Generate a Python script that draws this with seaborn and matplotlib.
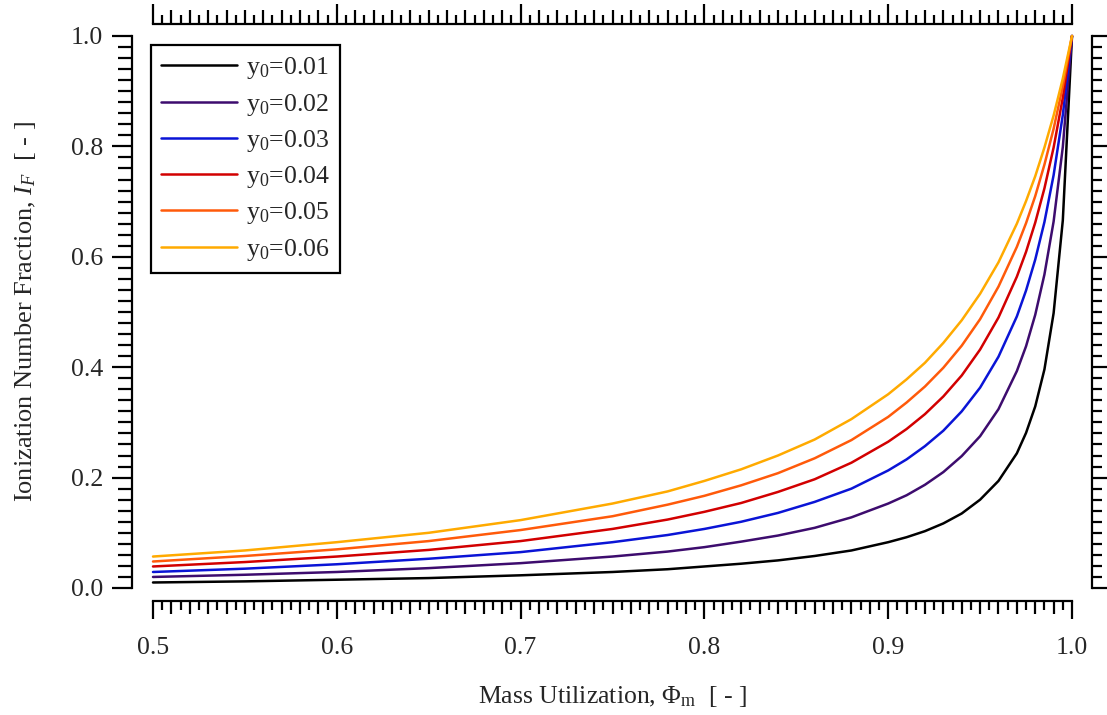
import numpy as np
import pandas as pd
import matplotlib
matplotlib.use("Agg")
import matplotlib.pyplot as plt
import seaborn as sns
from matplotlib.ticker import MultipleLocator, FormatStrFormatter

# ---------------- data ----------------
mass_util = [0.50, 0.55, 0.60, 0.65, 0.70, 0.75, 0.78, 0.80, 0.82, 0.84, 0.86, 0.88,
             0.90, 0.91, 0.92, 0.93, 0.94, 0.95, 0.96, 0.97, 0.975, 0.98, 0.985,
             0.99, 0.995, 1.00]
y0_labels = ["y$_0$=0.01", "y$_0$=0.02", "y$_0$=0.03",
             "y$_0$=0.04", "y$_0$=0.05", "y$_0$=0.06"]
if_y001 = [0.010, 0.012, 0.015, 0.018, 0.023, 0.029, 0.034, 0.039, 0.044, 0.050, 0.058,
           0.068, 0.083, 0.092, 0.103, 0.117, 0.135, 0.160, 0.194, 0.244, 0.281, 0.329,
           0.396, 0.498, 0.666, 1.000]
if_y002 = [0.020, 0.024, 0.029, 0.036, 0.045, 0.057, 0.066, 0.074, 0.084, 0.095, 0.109,
           0.128, 0.153, 0.168, 0.187, 0.210, 0.239, 0.275, 0.324, 0.393, 0.438, 0.495,
           0.568, 0.664, 0.799, 1.000]
if_y003 = [0.029, 0.035, 0.043, 0.053, 0.065, 0.083, 0.096, 0.107, 0.120, 0.136, 0.156,
           0.180, 0.213, 0.233, 0.257, 0.285, 0.320, 0.363, 0.419, 0.492, 0.539, 0.595,
           0.663, 0.748, 0.857, 1.000]
if_y004 = [0.039, 0.047, 0.057, 0.069, 0.085, 0.107, 0.124, 0.138, 0.154, 0.174, 0.197,
           0.227, 0.265, 0.288, 0.315, 0.347, 0.385, 0.432, 0.490, 0.564, 0.609, 0.662,
           0.724, 0.798, 0.888, 1.000]
if_y005 = [0.048, 0.058, 0.070, 0.085, 0.105, 0.130, 0.151, 0.167, 0.186, 0.208, 0.235,
           0.268, 0.310, 0.336, 0.365, 0.399, 0.439, 0.487, 0.546, 0.618, 0.661, 0.710,
           0.767, 0.832, 0.909, 1.000]
if_y006 = [0.057, 0.068, 0.083, 0.100, 0.123, 0.153, 0.175, 0.194, 0.215, 0.240, 0.269,
           0.306, 0.351, 0.378, 0.408, 0.444, 0.485, 0.533, 0.590, 0.660, 0.701, 0.746,
           0.798, 0.856, 0.923, 1.000]
series = [if_y001, if_y002, if_y003, if_y004, if_y005, if_y006]
colors = ["#000000", "#3d0c6e", "#0a14d6", "#d20000", "#ff5a0a", "#ffaa00"]

x_ticks = [0.5, 0.6, 0.7, 0.8, 0.9, 1.0]
y_ticks = [0.0, 0.2, 0.4, 0.6, 0.8, 1.0]

frames = []
for lab, vals in zip(y0_labels, series):
    frames.append(pd.DataFrame({"x": mass_util, "y": vals, "series": lab}))
df = pd.concat(frames, ignore_index=True)

# ---------------- style ----------------
sns.set_theme(style="white")
plt.rcParams["font.family"] = ["Liberation Serif", "DejaVu Serif"]
plt.rcParams["mathtext.fontset"] = "custom"
plt.rcParams["mathtext.rm"] = "Liberation Serif"
plt.rcParams["mathtext.it"] = "Liberation Serif:italic"
plt.rcParams["mathtext.bf"] = "Liberation Serif:bold"
FS = 18.5
LW = 1.6
CLW = 1.8
px = 72.0 / 100.0  # points per pixel

fig = plt.figure(figsize=(11.07, 7.15), dpi=100)
ax = fig.add_axes([153 / 1107, (715 - 588) / 715, 919 / 1107, 552 / 715])

sns.lineplot(data=df, x="x", y="y", hue="series", palette=colors,
             linewidth=CLW, ax=ax, legend=True, sort=False)
for ln in ax.get_lines():
    ln.set_clip_on(False)

ax.set_xlim(0.5, 1.0)
ax.set_ylim(0.0, 1.0)

# spines
for s in ["left", "bottom", "top", "right"]:
    ax.spines[s].set_visible(False)
ax.spines["left"].set_visible(True)
ax.spines["bottom"].set_visible(True)
ax.spines["left"].set_position(("outward", 21 * px))
ax.spines["bottom"].set_position(("outward", 13 * px))
for s in ["left", "bottom"]:
    ax.spines[s].set_linewidth(LW)
    ax.spines[s].set_color("black")

ax.xaxis.set_major_locator(MultipleLocator(0.1))
ax.xaxis.set_minor_locator(MultipleLocator(0.005))
ax.yaxis.set_major_locator(MultipleLocator(0.2))
ax.yaxis.set_minor_locator(MultipleLocator(0.02))
ax.xaxis.set_major_formatter(FormatStrFormatter("%.1f"))
ax.yaxis.set_major_formatter(FormatStrFormatter("%.1f"))
ax.set_xticks(x_ticks)
ax.set_yticks(y_ticks)

ax.tick_params(axis="x", which="major", direction="out", length=18 * px, width=LW,
               color="black", labelsize=FS, pad=18 * px, bottom=True, top=False)
ax.tick_params(axis="x", which="minor", direction="out", length=9 * px, width=LW,
               color="black", bottom=True, top=False)
ax.tick_params(axis="y", which="major", direction="out", length=20 * px, width=LW,
               color="black", labelsize=FS, pad=9 * px, left=True, right=False)
ax.tick_params(axis="y", which="minor", direction="out", length=14 * px, width=LW,
               color="black", left=True, right=False)

# right axis (ticks only)
axr = ax.twinx()
axr.set_ylim(0.0, 1.0)
for s in ["left", "bottom", "top"]:
    axr.spines[s].set_visible(False)
axr.spines["right"].set_position(("outward", 20 * px))
axr.spines["right"].set_linewidth(LW)
axr.spines["right"].set_color("black")
axr.yaxis.set_major_locator(MultipleLocator(0.2))
axr.yaxis.set_minor_locator(MultipleLocator(0.02))
axr.tick_params(axis="y", which="major", direction="out", length=15 * px, width=LW,
                color="black", labelright=False, right=True)
axr.tick_params(axis="y", which="minor", direction="out", length=10 * px, width=LW,
                color="black", right=True)

# top axis (ticks only)
axt = ax.twiny()
axt.set_xlim(0.5, 1.0)
for s in ["left", "bottom", "right"]:
    axt.spines[s].set_visible(False)
axt.spines["top"].set_position(("outward", 12 * px))
axt.spines["top"].set_linewidth(LW)
axt.spines["top"].set_color("black")
axt.xaxis.set_major_locator(MultipleLocator(0.1))
axt.xaxis.set_minor_locator(MultipleLocator(0.005))
axt.tick_params(axis="x", which="major", direction="out", length=20 * px, width=LW,
                color="black", labeltop=False, top=True)
axt.tick_params(axis="x", which="minor", direction="out", length=9 * px, width=LW,
                color="black", top=True)
axt.grid(False)
axr.grid(False)
ax.grid(False)

ax.set_xlabel("Mass Utilization, $\\Phi_\\mathrm{m}$  [ - ]", fontsize=FS, labelpad=25 * px)
ax.set_ylabel("Ionization Number Fraction, $I_F$  [ - ]", fontsize=FS + 0.5, labelpad=33 * px)

handles, labels = ax.get_legend_handles_labels()
leg = ax.legend(handles, labels, loc="upper left",
                bbox_to_anchor=(151 / 1107, 1 - 45 / 715), bbox_transform=fig.transFigure,
                borderaxespad=0, frameon=True, fancybox=False, edgecolor="black",
                fontsize=FS, handlelength=2.95, handletextpad=0.35, labelspacing=0.4,
                borderpad=0.4)
leg.get_frame().set_linewidth(LW)
leg.get_frame().set_alpha(1)
for lh in leg.get_lines():
    lh.set_linewidth(CLW)

# medium ticks at every 0.01 on top and bottom
fig.canvas.draw()
def medium_ticks(axis, length_pt, which_line):
    locs = axis.get_minorticklocs()
    ticks = axis.get_minor_ticks(len(locs))
    for loc, t in zip(locs, ticks):
        k = int(round(loc * 1000))
        if k % 10 == 0:
            getattr(t, which_line).set_markersize(length_pt)

medium_ticks(ax.xaxis, 13 * px, "tick1line")
medium_ticks(axt.xaxis, 14 * px, "tick2line")

fig.savefig("out.png", dpi=100)
